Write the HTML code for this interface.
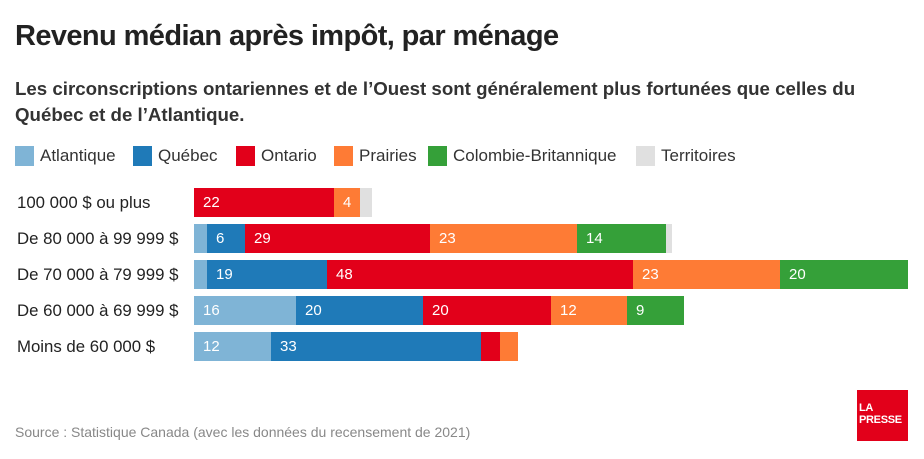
<!DOCTYPE html>
<html><head><meta charset="utf-8"><style>
body{margin:0;width:924px;height:459px;background:#fff;font-family:"Liberation Sans",sans-serif;color:#333;position:relative;overflow:hidden}
div{position:absolute}
.t{left:15px;top:20px;font-size:29px;font-weight:bold;color:#222;letter-spacing:-0.6px}
.s{left:15px;top:76px;font-size:18.7px;font-weight:bold;color:#333;line-height:26px;width:900px}
.lg{top:146px;font-size:17px;color:#333;line-height:20px}
.lg span{display:inline-block;width:19px;height:20px;vertical-align:top;margin-right:6px}
.lab{left:17px;font-size:16.8px;color:#222;line-height:29px}
.b{height:29px;color:#fff;font-size:15px;line-height:29px;text-indent:9px;white-space:nowrap;overflow:hidden}
.A{background:#7fb4d6}.Q{background:#1f7ab8}.O{background:#e2001a}.P{background:#fe7b35}.C{background:#35a039}.T{background:#e0e0e0}
</style></head><body>
<div class="t">Revenu médian après impôt, par ménage</div>
<div class="s">Les circonscriptions ontariennes et de l’Ouest sont généralement plus fortunées que celles du Québec et de l’Atlantique.</div>
<div class="lg" style="left:15px"><span class="A"></span>Atlantique</div>
<div class="lg" style="left:133px"><span class="Q"></span>Québec</div>
<div class="lg" style="left:236px"><span class="O"></span>Ontario</div>
<div class="lg" style="left:334px"><span class="P"></span>Prairies</div>
<div class="lg" style="left:428px"><span class="C"></span>Colombie-Britannique</div>
<div class="lg" style="left:636px"><span class="T"></span>Territoires</div>

<div class="lab" style="top:188px">100 000 $ ou plus</div>
<div class="lab" style="top:224px">De 80 000 à 99 999 $</div>
<div class="lab" style="top:260px">De 70 000 à 79 999 $</div>
<div class="lab" style="top:296px">De 60 000 à 69 999 $</div>
<div class="lab" style="top:332px">Moins de 60 000 $</div>

<div class="b O" style="top:188px;left:194px;width:140px">22</div>
<div class="b P" style="top:188px;left:334px;width:26px">4</div>
<div class="b T" style="top:188px;left:360px;width:12px"></div>

<div class="b A" style="top:224px;left:194px;width:13px"></div>
<div class="b Q" style="top:224px;left:207px;width:38px">6</div>
<div class="b O" style="top:224px;left:245px;width:185px">29</div>
<div class="b P" style="top:224px;left:430px;width:147px">23</div>
<div class="b C" style="top:224px;left:577px;width:89px">14</div>
<div class="b T" style="top:224px;left:666px;width:6px"></div>

<div class="b A" style="top:260px;left:194px;width:13px"></div>
<div class="b Q" style="top:260px;left:207px;width:120px">19</div>
<div class="b O" style="top:260px;left:327px;width:306px">48</div>
<div class="b P" style="top:260px;left:633px;width:147px">23</div>
<div class="b C" style="top:260px;left:780px;width:128px">20</div>

<div class="b A" style="top:296px;left:194px;width:102px">16</div>
<div class="b Q" style="top:296px;left:296px;width:127px">20</div>
<div class="b O" style="top:296px;left:423px;width:128px">20</div>
<div class="b P" style="top:296px;left:551px;width:76px">12</div>
<div class="b C" style="top:296px;left:627px;width:57px">9</div>

<div class="b A" style="top:332px;left:194px;width:77px">12</div>
<div class="b Q" style="top:332px;left:271px;width:210px">33</div>
<div class="b O" style="top:332px;left:481px;width:19px"></div>
<div class="b P" style="top:332px;left:500px;width:18px"></div>

<div style="left:15px;top:424px;font-size:14px;color:#888">Source : Statistique Canada (avec les données du recensement de 2021)</div>
<div style="left:857px;top:390px;width:51px;height:51px;background:#e2001a;color:#fff;font-weight:bold;font-size:11px;line-height:12px;box-sizing:border-box;padding-left:2px;padding-top:12px;letter-spacing:-0.3px">LA<br>PRESSE</div>
</body></html>
